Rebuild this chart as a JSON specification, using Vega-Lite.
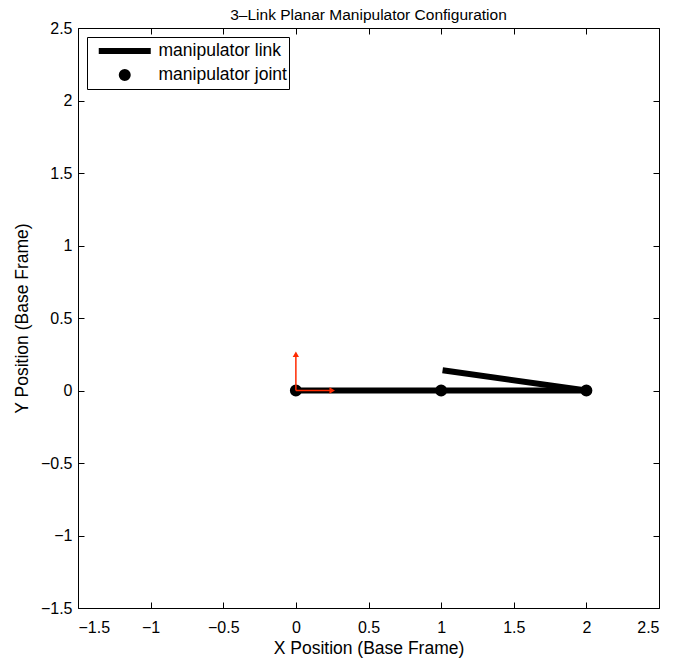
{
  "$schema": "https://vega.github.io/schema/vega-lite/v6.json",
  "width": 581,
  "height": 580,
  "autosize": {"type": "none"},
  "padding": {"left": 78, "top": 28, "right": 14, "bottom": 50},
  "background": "white",
  "title": {"text": "3\u2013Link Planar Manipulator Configuration", "fontSize": 15.5, "fontWeight": "normal", "font": "Liberation Sans", "offset": -3, "frame": "group", "color": "black"},
  "config": {
    "view": {"stroke": "black", "strokeWidth": 1},
    "axis": {"grid": false, "domain": false, "labelFont": "Liberation Sans", "titleFont": "Liberation Sans", "labelFontSize": 16, "titleFontSize": 17.5, "titleFontWeight": "normal", "labelColor": "black", "titleColor": "black", "tickColor": "black", "tickSize": 6, "labelPadding": 5, "format": "~g"},
    "legend": {"labelFont": "Liberation Sans", "labelFontSize": 17.5, "labelColor": "black"}
  },
  "datasets": {
    "links": [
      {"x": 0, "y": 0, "x2": 1, "y2": 0},
      {"x": 1, "y": 0, "x2": 2, "y2": 0},
      {"x": 2, "y": 0, "x2": 1.01, "y2": 0.139}
    ],
    "joints": [
      {"x": 0, "y": 0, "kind": "manipulator joint"},
      {"x": 1, "y": 0, "kind": "manipulator joint"},
      {"x": 2, "y": 0, "kind": "manipulator joint"}
    ],
    "arrows": [
      {"x": 0, "y": 0, "x2": 0, "y2": 0.24},
      {"x": 0, "y": 0, "x2": 0.24, "y2": 0}
    ],
    "heads": [
      {"x": 0, "y": 0.25, "dir": "up"},
      {"x": 0.25, "y": 0, "dir": "right"}
    ]
  },
  "layer": [
    {
      "layer": [
        {
          "data": {"name": "links"},
          "mark": {"type": "rule", "color": "black", "strokeWidth": 6, "strokeCap": "butt"},
          "encoding": {
            "x": {"field": "x", "type": "quantitative", "scale": {"domain": [-1.5, 2.5], "nice": false, "zero": false}, "axis": {"title": "X Position (Base Frame)", "orient": "bottom", "ticks": false, "labelPadding": 11, "titlePadding": 4, "values": [-1.5, -1, -0.5, 0, 0.5, 1, 1.5, 2, 2.5]}},
            "y": {"field": "y", "type": "quantitative", "scale": {"domain": [-1.5, 2.5], "nice": false, "zero": false}, "axis": {"title": "Y Position (Base Frame)", "orient": "left", "ticks": false, "labelPadding": 6, "titlePadding": 9, "values": [-1.5, -1, -0.5, 0, 0.5, 1, 1.5, 2, 2.5]}},
            "x2": {"field": "x2"},
            "y2": {"field": "y2"}
          }
        },
        {
          "data": {"name": "joints"},
          "mark": {"type": "point", "filled": true, "color": "black", "stroke": "black", "strokeWidth": 6, "opacity": 1},
          "encoding": {
            "x": {"field": "x", "type": "quantitative"},
            "y": {"field": "y", "type": "quantitative"},
            "shape": {"field": "kind", "type": "nominal", "scale": {"domain": ["manipulator link", "manipulator joint"], "range": ["M-5.2,0L5.2,0", "circle"]}, "legend": {"title": null, "orient": "top-left", "offset": 9, "strokeColor": "black", "fillColor": "white", "padding": 2, "cornerRadius": 0, "symbolOffset": 27, "labelOffset": 25, "rowPadding": 0, "clipHeight": 24, "labelExpr": "datum.label + '  '", "symbolStrokeWidth": 6, "symbolStrokeColor": "black", "symbolFillColor": "black", "symbolOpacity": 1, "encode": {"symbols": {"update": {"stroke": {"value": "black"}, "strokeWidth": {"value": 6}, "fill": {"value": "black"}, "opacity": {"value": 1}}}}}},
            "size": {"field": "kind", "type": "nominal", "scale": {"domain": ["manipulator link", "manipulator joint"], "range": [100, 36]}}
          }
        },
        {
          "data": {"name": "arrows"},
          "mark": {"type": "rule", "color": "#ff2a00", "strokeWidth": 1.5},
          "encoding": {
            "x": {"field": "x", "type": "quantitative"},
            "y": {"field": "y", "type": "quantitative"},
            "x2": {"field": "x2"},
            "y2": {"field": "y2"}
          }
        },
        {
          "data": {"name": "heads"},
          "mark": {"type": "point", "filled": true, "color": "#ff2a00", "opacity": 1, "size": 40, "shape": "triangle-up"},
          "encoding": {
            "x": {"field": "x", "type": "quantitative"},
            "y": {"field": "y", "type": "quantitative"},
            "angle": {"field": "dir", "type": "nominal", "scale": {"domain": ["up", "right"], "range": [0, 90]}, "legend": null}
          }
        }
      ],
      "resolve": {"axis": {"x": "shared", "y": "shared"}}
    },
    {
      "data": {"name": "joints"},
      "mark": {"type": "point", "opacity": 0},
      "encoding": {
        "x": {"field": "x", "type": "quantitative", "axis": {"orient": "bottom", "title": null, "labels": false, "offset": -6, "values": [-1.5, -1, -0.5, 0, 0.5, 1, 1.5, 2, 2.5]}},
        "y": {"field": "y", "type": "quantitative", "axis": {"orient": "left", "title": null, "labels": false, "offset": -6, "values": [-1.5, -1, -0.5, 0, 0.5, 1, 1.5, 2, 2.5]}}
      }
    },
    {
      "data": {"name": "joints"},
      "mark": {"type": "point", "opacity": 0},
      "encoding": {
        "x": {"field": "x", "type": "quantitative", "axis": {"orient": "top", "title": null, "labels": false, "offset": -6, "values": [-1.5, -1, -0.5, 0, 0.5, 1, 1.5, 2, 2.5]}},
        "y": {"field": "y", "type": "quantitative", "axis": {"orient": "right", "title": null, "labels": false, "offset": -6, "values": [-1.5, -1, -0.5, 0, 0.5, 1, 1.5, 2, 2.5]}}
      }
    }
  ],
  "resolve": {"axis": {"x": "independent", "y": "independent"}, "scale": {"x": "shared", "y": "shared"}}
}
